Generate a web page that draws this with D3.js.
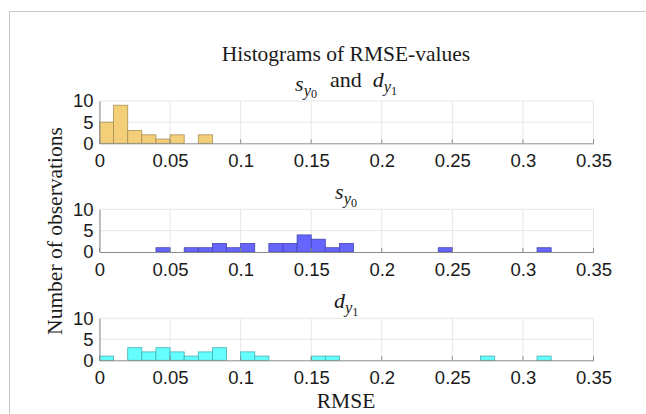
<!DOCTYPE html>
<html>
<head>
<meta charset="utf-8">
<script src="https://cdn.jsdelivr.net/npm/d3@7"></script>
<style>
    body { margin: 0; background: #fff; }
    svg text { fill: #1a1a1a; }
    .serif { font-family: "Liberation Serif", serif; }
    .tick-label { font-family: "Liberation Sans", Arial, sans-serif; font-size: 18.5px; }
</style>
</head>
<body>
<div id="chart-wrapper"></div>
<script>
// bin lower edges and counts (only non-empty bins), bin width 0.01
const binWidth = 0.01;
const bothEdges = [0, 0.01, 0.02, 0.03, 0.04, 0.05, 0.07];
const bothCounts = [5, 9, 3, 2, 1, 2, 2];
const sEdges = [0.04, 0.06, 0.07, 0.08, 0.09, 0.10, 0.12, 0.13, 0.14, 0.15, 0.16, 0.17, 0.24, 0.31];
const sCounts = [1, 1, 1, 2, 1, 2, 2, 2, 4, 3, 1, 2, 1, 1];
const dEdges = [0, 0.02, 0.03, 0.04, 0.05, 0.06, 0.07, 0.08, 0.10, 0.11, 0.15, 0.16, 0.27, 0.31];
const dCounts = [1, 3, 2, 3, 2, 1, 2, 3, 2, 1, 1, 1, 1, 1];
const xTicks = [0, 0.05, 0.1, 0.15, 0.2, 0.25, 0.3, 0.35];
const yTicks = [0, 5, 10];

class Histograms {
    constructor(){
        this.size = { width: 646, height: 414, left: 99.5, right: 593.5 };
        this.panels = [
            { edges: bothEdges, counts: bothCounts, top: 101, bottom: 143.3,
              fill: "#f3cf78", stroke: "#a89058", title: "both" },
            { edges: sEdges, counts: sCounts, top: 209.3, bottom: 252,
              fill: "#6666ff", stroke: "#4444b0", title: "s" },
            { edges: dEdges, counts: dCounts, top: 318.3, bottom: 360.3,
              fill: "#66ffff", stroke: "#44b0b0", title: "d" }
        ];
        this.svg;
    }

    drawChart(){
        this.svg = d3.select("#chart-wrapper")
            .append("svg")
            .attr("width", this.size.width)
            .attr("height", this.size.height);

        // figure frame
        this.svg.append("rect")
            .attr("x", 9.5).attr("y", 11.5)
            .attr("width", 700).attr("height", 500)
            .attr("fill", "none")
            .attr("stroke", "#c8c8c8");

        this.x = d3.scaleLinear()
            .domain([0, 0.35])
            .range([this.size.left, this.size.right]);

        this.panels.forEach(p => this.addPanel(p));
        this.addText();
    }

    addPanel(p){
        let x = this.x;
        let y = d3.scaleLinear().domain([0, 10]).range([p.bottom, p.top]);
        let g = this.svg.append("g");

        // grid
        g.selectAll(".gx").data(xTicks).join("line")
            .attr("x1", d => x(d)).attr("x2", d => x(d))
            .attr("y1", p.top).attr("y2", p.bottom)
            .attr("stroke", "#e6e6e6");
        g.selectAll(".gy").data(yTicks.slice(1)).join("line")
            .attr("x1", this.size.left).attr("x2", this.size.right)
            .attr("y1", d => y(d)).attr("y2", d => y(d))
            .attr("stroke", "#e6e6e6");

        // bars
        let bins = p.edges.map((e, i) => ({ x0: e, n: p.counts[i] }));
        g.selectAll("rect").data(bins).join("rect")
            .attr("x", d => x(d.x0))
            .attr("width", d => x(d.x0 + binWidth) - x(d.x0))
            .attr("y", d => y(d.n))
            .attr("height", d => y(0) - y(d.n))
            .attr("fill", p.fill)
            .attr("stroke", p.stroke)
            .attr("stroke-width", 0.8);

        // axes
        let xAxis = d3.axisBottom(x).tickValues(xTicks).tickSize(0).tickPadding(11)
            .tickFormat(d => d === 0 ? "0" : String(+d.toFixed(2)));
        let ax = g.append("g")
            .attr("transform", `translate(0,${p.bottom})`)
            .call(xAxis);
        ax.select(".domain").attr("stroke", "#8c8c8c");
        ax.selectAll("text").attr("class", "tick-label").attr("fill", "#1a1a1a");

        let yAxis = d3.axisLeft(y).tickValues(yTicks).tickSize(0).tickPadding(6);
        let ay = g.append("g")
            .attr("transform", `translate(${this.size.left},0)`)
            .call(yAxis);
        ay.select(".domain").attr("stroke", "#8c8c8c");
        ay.selectAll("text").attr("class", "tick-label").attr("fill", "#1a1a1a");

        // small inward tick marks
        g.selectAll(".tm").data(xTicks).join("line")
            .attr("x1", d => x(d)).attr("x2", d => x(d))
            .attr("y1", p.bottom).attr("y2", p.bottom - 4)
            .attr("stroke", "#8c8c8c");

        this.addPanelTitle(p);
    }

    addSub(t, base, sub, subsub){
        t.append("tspan").attr("font-style", "italic").text(base);
        t.append("tspan").attr("font-style", "italic").attr("font-size", "0.75em")
            .attr("dy", "0.3em").text(sub);
        t.append("tspan").attr("font-size", "0.55em").attr("dy", "0.2em").text(subsub);
        t.append("tspan").attr("dy", "-0.5em").text("\u200a");
    }

    addPanelTitle(p){
        let t = this.svg.append("text")
            .attr("class", "serif")
            .attr("font-size", 22)
            .attr("text-anchor", "middle")
            .attr("x", 347)
            .attr("y", p.top - 10);
        if (p.title === "both"){
            this.addSub(t, "s", "y", "0");
            t.append("tspan").text("\u2002and\u2002");
            this.addSub(t, "d", "y", "1");
        } else if (p.title === "s"){
            this.addSub(t, "s", "y", "0");
        } else {
            this.addSub(t, "d", "y", "1");
        }
    }

    addText(){
        this.svg.append("text")
            .attr("class", "serif")
            .attr("font-size", 21.5)
            .attr("text-anchor", "middle")
            .attr("x", 346).attr("y", 61)
            .text("Histograms of RMSE-values");

        this.svg.append("text")
            .attr("class", "serif")
            .attr("font-size", 21.5)
            .attr("text-anchor", "middle")
            .attr("x", 346).attr("y", 408)
            .text("RMSE");

        this.svg.append("text")
            .attr("class", "serif")
            .attr("font-size", 21.5)
            .attr("text-anchor", "middle")
            .attr("transform", "translate(62,231) rotate(-90)")
            .text("Number of observations");
    }
}

let chart = new Histograms();
chart.drawChart();
</script>
</body>
</html>
